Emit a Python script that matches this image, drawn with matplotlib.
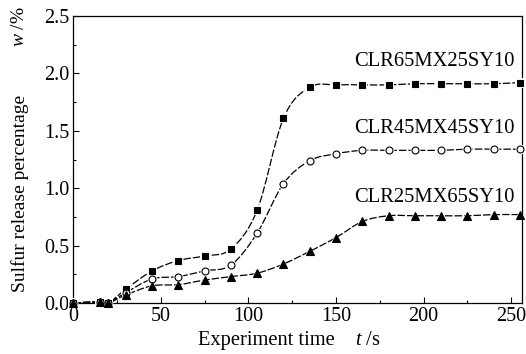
import numpy as np
import matplotlib
matplotlib.use("Agg")
import matplotlib.pyplot as plt
from matplotlib.path import Path
from matplotlib.patches import PathPatch

plt.rcParams['font.family'] = ['Liberation Serif', 'DejaVu Serif']
plt.rcParams['mathtext.fontset'] = 'custom'
plt.rcParams['mathtext.rm'] = 'Liberation Serif'
plt.rcParams['mathtext.it'] = 'Liberation Serif:italic'

time_s = [0, 15, 20, 30, 45, 60, 75, 90, 105, 120, 135, 150, 165, 180, 195, 210, 225, 240, 255]
clr65 = [0.0, 0.01, 0.0, 0.12, 0.28, 0.37, 0.41, 0.47, 0.81, 1.61, 1.88, 1.90, 1.90, 1.90, 1.91, 1.91, 1.91, 1.91, 1.92]
clr45 = [0.0, 0.01, 0.0, 0.09, 0.21, 0.23, 0.28, 0.33, 0.61, 1.04, 1.24, 1.30, 1.33, 1.33, 1.33, 1.33, 1.34, 1.34, 1.34]
clr25 = [0.0, 0.01, 0.0, 0.07, 0.15, 0.16, 0.20, 0.23, 0.26, 0.34, 0.45, 0.57, 0.71, 0.76, 0.76, 0.76, 0.76, 0.77, 0.77]
series_names = ["CLR65MX25SY10", "CLR45MX45SY10", "CLR25MX65SY10"]

W, H = 526, 354
fig = plt.figure(figsize=(W / 100, H / 100), dpi=100)
ax = fig.add_axes([73.3 / W, 51 / H, (521.7 - 73.3) / W, (303 - 16) / H])


def smooth_path(x, y):
    # Catmull-Rom spline converted into cubic Bezier segments (rendered by matplotlib)
    x = np.asarray(x, float); y = np.asarray(y, float)
    n = len(x)
    verts = [(x[0], y[0])]
    codes = [Path.MOVETO]
    for i in range(n - 1):
        p0 = np.array([x[max(i - 1, 0)], y[max(i - 1, 0)]])
        p1 = np.array([x[i], y[i]])
        p2 = np.array([x[i + 1], y[i + 1]])
        p3 = np.array([x[min(i + 2, n - 1)], y[min(i + 2, n - 1)]])
        c1 = p1 + (p2 - p0) / 6.0
        c2 = p2 - (p3 - p1) / 6.0
        verts += [tuple(c1), tuple(c2), tuple(p2)]
        codes += [Path.CURVE4] * 3
    return Path(verts, codes)


styles = [
    dict(marker='s', ms=4.6, mfc='black'),
    dict(marker='o', ms=5.0, mfc='white'),
    dict(marker='^', ms=5.2, mfc='black'),
]
for ys, st in zip([clr65, clr45, clr25], styles):
    patch = PathPatch(smooth_path(time_s, ys), fill=False, edgecolor='black',
                      lw=0.9, linestyle=(0, (6, 1.6)), zorder=2)
    ax.add_patch(patch)
    ax.plot(time_s, ys, linestyle='none', marker=st['marker'], ms=st['ms'] + 2.2,
            mfc='white', mec='white', mew=0, zorder=3, clip_on=False)
    ax.plot(time_s, ys, linestyle='none', marker=st['marker'], ms=st['ms'],
            mfc=st['mfc'], mec='black', mew=0.8, zorder=4, clip_on=False)

label_y = [2.10, 1.52, 0.92]
for name, ly in zip(series_names, label_y):
    ax.text(252, ly, name, ha='right', va='center', fontsize=14.8)

ax.set_xlim(0, 256)
ax.set_ylim(0, 2.5)
ax.set_xticks([0, 50, 100, 150, 200, 250])
ax.set_xticks([25, 75, 125, 175, 225], minor=True)
ax.set_yticks([0.0, 0.5, 1.0, 1.5, 2.0, 2.5])
ax.set_yticks([0.25, 0.75, 1.25, 1.75, 2.25], minor=True)
ax.set_yticklabels(['0.0', '0.5', '1.0', '1.5', '2.0', '2.5'])
ax.tick_params(which='both', direction='in', labelsize=14.5, width=0.8)
ax.tick_params(which='major', length=4)
ax.tick_params(which='minor', length=2.5)
ax.tick_params(axis='x', pad=3)
ax.tick_params(axis='y', pad=3)
for s in ax.spines.values():
    s.set_linewidth(0.9)

# axis titles
fig.text(198 / W, 9 / H, 'Experiment time', fontsize=14.8, ha='left', va='baseline')
fig.text(355 / W, 9 / H, '$t$ /s', fontsize=14.8, ha='left', va='baseline')
fig.text(20 / W, 1 - 193 / H, 'Sulfur release percentage', fontsize=14,
         rotation=90, ha='center', va='center')
fig.text(20 / W, 1 - 27 / H, '$w$ /%', fontsize=14,
         rotation=90, ha='center', va='center')

fig.savefig('out.png', dpi=100)
